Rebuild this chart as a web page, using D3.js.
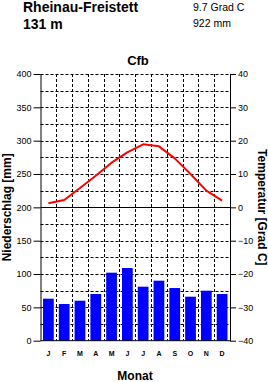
<!DOCTYPE html>
<html>
<head>
<meta charset="utf-8">
<script src="https://cdn.jsdelivr.net/npm/d3@7"></script>
<style>
  body { margin: 0; background: #fff; }
  svg { display: block; font-family: "Liberation Sans", Arial, sans-serif; }
</style>
</head>
<body>
<svg id="chart" width="268" height="382"></svg>
<script>
// data
const months = ['J', 'F', 'M', 'A', 'M', 'J', 'J', 'A', 'S', 'O', 'N', 'D'];
const precip = [63, 55, 60, 70, 102, 109, 81, 90, 79, 66, 75, 70];          // mm
const temp = [1.2, 2.2, 5.8, 9.5, 13.4, 16.5, 18.9, 18.3, 14.7, 10.0, 5.0, 2.0]; // Grad C
const precipTicks = [0, 50, 100, 150, 200, 250, 300, 350, 400];
const tempTicks = [-40, -30, -20, -10, 0, 10, 20, 30, 40];

const svg = d3.select('#chart');
const plotL = 40.5, plotR = 230, plotT = 74, plotB = 340.7;

// month cells
const x = d3.scaleBand()
  .domain(d3.range(months.length))
  .range([plotL, plotR])
  .padding(0);

const yP = d3.scaleLinear().domain([0, 400]).range([plotB, plotT]);
const yT = d3.scaleLinear().domain([-40, 40]).range([plotB, plotT]);

// dashed grid
const grid = svg.append('g')
  .attr('stroke', '#000')
  .attr('stroke-width', 1)
  .attr('stroke-dasharray', '3,2');

grid.selectAll('line.h')
  .data(d3.range(25, 401, 25).filter(d => d !== 200))
  .join('line')
  .attr('class', 'h')
  .attr('x1', plotL).attr('x2', plotR)
  .attr('y1', d => Math.round(yP(d)) + 0.5)
  .attr('y2', d => Math.round(yP(d)) + 0.5);

grid.selectAll('line.v')
  .data(d3.range(1, months.length))
  .join('line')
  .attr('class', 'v')
  .attr('x1', d => Math.round(x(d)) + 0.5)
  .attr('x2', d => Math.round(x(d)) + 0.5)
  .attr('y1', plotT).attr('y2', plotB);

// bars
const barW = x.bandwidth() * 0.68;
svg.append('g')
  .attr('fill', '#0000ff')
  .selectAll('rect')
  .data(precip)
  .join('rect')
  .attr('x', (d, i) => x(i) + (x.bandwidth() - barW) / 2)
  .attr('width', barW)
  .attr('y', d => yP(d))
  .attr('height', d => yP(0) - yP(d));

// zero line (0 Grad C / 200 mm)
svg.append('line')
  .attr('x1', plotL).attr('x2', plotR)
  .attr('y1', Math.round(yT(0)) + 0.5)
  .attr('y2', Math.round(yT(0)) + 0.5)
  .attr('stroke', '#000');

// temperature curve
const line = d3.line()
  .x((d, i) => x(i) + x.bandwidth() / 2)
  .y(d => yT(d));

svg.append('path')
  .datum(temp)
  .attr('d', line)
  .attr('fill', 'none')
  .attr('stroke', '#ff0000')
  .attr('stroke-width', 2)
  .attr('stroke-linejoin', 'round');

// axes
const axL = svg.append('g')
  .attr('transform', `translate(${plotL},0)`)
  .call(d3.axisLeft(yP).tickValues(precipTicks).tickSize(7).tickPadding(2).tickSizeOuter(0));

const axR = svg.append('g')
  .attr('transform', `translate(${plotR},0)`)
  .call(d3.axisRight(yT).tickValues(tempTicks).tickSize(6).tickPadding(2).tickSizeOuter(0));

svg.append('line')
  .attr('x1', plotL).attr('x2', plotR)
  .attr('y1', plotB).attr('y2', plotB)
  .attr('stroke', '#000');

[axL, axR].forEach(a => {
  a.select('.domain').attr('stroke', '#000');
  a.selectAll('.tick text')
    .attr('font-family', '"Liberation Sans", Arial, sans-serif')
    .attr('font-size', 9)
    .attr('fill', '#000');
});

// month labels
svg.append('g')
  .selectAll('text')
  .data(months)
  .join('text')
  .attr('x', (d, i) => x(i) + x.bandwidth() / 2)
  .attr('y', 356)
  .attr('text-anchor', 'middle')
  .attr('font-size', 7)
  .attr('font-weight', 'bold')
  .text(d => d);

// titles
svg.append('text').attr('x', 23).attr('y', 12)
  .attr('font-size', 14).attr('font-weight', 'bold').text('Rheinau-Freistett');
svg.append('text').attr('x', 23).attr('y', 28.5)
  .attr('font-size', 14).attr('font-weight', 'bold').text('131 m');
svg.append('text').attr('x', 193).attr('y', 11)
  .attr('font-size', 10.5).text('9.7 Grad C');
svg.append('text').attr('x', 193).attr('y', 26.5)
  .attr('font-size', 10.5).text('922 mm');
svg.append('text').attr('x', 138).attr('y', 65)
  .attr('text-anchor', 'middle')
  .attr('font-size', 13).attr('font-weight', 'bold').text('Cfb');
svg.append('text').attr('x', 135).attr('y', 379.5)
  .attr('text-anchor', 'middle')
  .attr('font-size', 12).attr('font-weight', 'bold').text('Monat');

svg.append('text')
  .attr('transform', `translate(11,${(plotT + plotB) / 2}) rotate(-90)`)
  .attr('text-anchor', 'middle')
  .attr('font-size', 12).attr('font-weight', 'bold')
  .text('Niederschlag [mm]');
svg.append('text')
  .attr('transform', `translate(258,${(plotT + plotB) / 2}) rotate(90)`)
  .attr('text-anchor', 'middle')
  .attr('font-size', 12).attr('font-weight', 'bold')
  .text('Temperatur [Grad C]');
</script>
</body>
</html>
